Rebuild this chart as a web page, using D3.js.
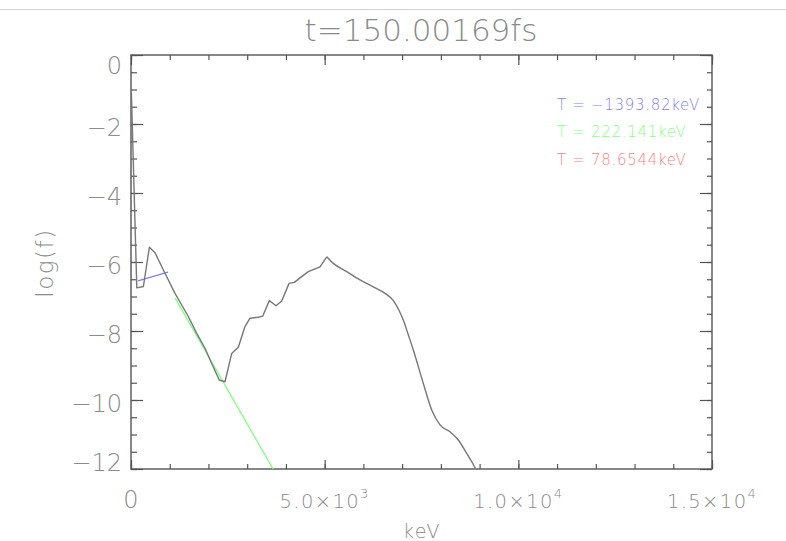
<!DOCTYPE html>
<html>
<head>
<meta charset="utf-8">
<script src="https://cdn.jsdelivr.net/npm/d3@7"></script>
<style>
  html, body { margin: 0; padding: 0; background: #fff; }
  svg { display: block; }
  text { font-family: "DejaVu Sans", sans-serif; font-weight: 200; fill: #8a8a8a; }
</style>
</head>
<body>
<script>
// ---- data ----
const titleText = "t=150.00169fs";
const xLabel = "keV";
const yLabel = "log(f)";

const energy = [10, 150, 320, 475, 620, 835, 1136, 1480, 1696, 1910, 2083, 2280, 2427, 2600, 2771, 2943, 3073, 3287, 3400, 3571, 3744, 3891, 4080, 4217, 4364, 4578, 4880, 5053, 5223, 5570, 5913, 6256, 6558, 6773, 6927, 7031, 7150, 7289, 7547, 7764, 7978, 8236, 8451, 8667, 8908, 9000];
const logf   = [-1.1, -6.75, -6.71, -5.57, -5.73, -6.23, -6.91, -7.58, -8.07, -8.5, -8.94, -9.42, -9.47, -8.65, -8.47, -7.87, -7.63, -7.6, -7.57, -7.12, -7.27, -7.13, -6.62, -6.59, -6.46, -6.28, -6.14, -5.85, -6.04, -6.28, -6.52, -6.72, -6.91, -7.12, -7.42, -7.68, -8.08, -8.55, -9.52, -10.29, -10.72, -10.92, -11.16, -11.55, -12.03, -12.3];
const smoothFrom = 5053; // beyond this energy the curve is smooth

const fitBlueX  = [180, 955];
const fitBlueY  = [-6.55, -6.29];
const fitGreenX = [1136, 3800];
const fitGreenY = [-7.04, -12.26];

const legendTexts  = ["T = \u22121393.82keV", "T = 222.141keV", "T = 78.6544keV"];
const legendColors = ["#7f7fff", "#7fff7f", "#ff7f7f"];

const xMajorTicks = [0, 5000, 10000, 15000];
const xTickMantissa = ["0", "5.0", "1.0", "1.5"];
const xTickExponent = ["", "3", "4", "4"];
const xMinorTicks = d3.range(0, 15001, 1000);
const yMajorTicks = [0, -2, -4, -6, -8, -10, -12];
const yTickLabels = ["0", "\u22122", "\u22124", "\u22126", "\u22128", "\u221210", "\u221212"];
const yMinorTicks = d3.range(0, -12.01, -0.5);

// ---- layout ----
const W = 786, H = 541;
const pLeft = 131, pRight = 712, pTop = 55, pBottom = 469;
const axisColor = "#555";

const x = d3.scaleLinear().domain([0, 15000]).range([pLeft, pRight]);
const y = d3.scaleLinear().domain([0, -12]).range([pTop, pBottom]);

const svg = d3.select("body").append("svg").attr("width", W).attr("height", H);

// faint top border line
svg.append("line").attr("x1", 0).attr("x2", W).attr("y1", 9.5).attr("y2", 9.5)
  .attr("stroke", "#d0d0d0").attr("stroke-width", 1);

svg.append("clipPath").attr("id", "clip").append("rect")
  .attr("x", pLeft).attr("y", pTop).attr("width", pRight - pLeft).attr("height", pBottom - pTop);

// ---- axes (ticks pointing inward) ----
function styleAxis(g) {
  g.select(".domain").remove();
  g.selectAll(".tick line").attr("stroke", axisColor).attr("stroke-width", 1.2);
  g.selectAll(".tick text").remove();
}
svg.append("g").attr("transform", `translate(0,${pBottom})`)
  .call(d3.axisBottom(x).tickValues(xMinorTicks).tickSize(-5).tickFormat("")).call(styleAxis);
svg.append("g").attr("transform", `translate(0,${pBottom})`)
  .call(d3.axisBottom(x).tickValues(xMajorTicks).tickSize(-9).tickFormat("")).call(styleAxis);
svg.append("g").attr("transform", `translate(0,${pTop})`)
  .call(d3.axisTop(x).tickValues(xMinorTicks).tickSize(-5).tickFormat("")).call(styleAxis);
svg.append("g").attr("transform", `translate(0,${pTop})`)
  .call(d3.axisTop(x).tickValues(xMajorTicks).tickSize(-10).tickFormat("")).call(styleAxis);
svg.append("g").attr("transform", `translate(${pLeft},0)`)
  .call(d3.axisLeft(y).tickValues(yMinorTicks).tickSize(-6).tickFormat("")).call(styleAxis);
svg.append("g").attr("transform", `translate(${pLeft},0)`)
  .call(d3.axisLeft(y).tickValues(yMajorTicks).tickSize(-12).tickFormat("")).call(styleAxis);
svg.append("g").attr("transform", `translate(${pRight},0)`)
  .call(d3.axisRight(y).tickValues(yMinorTicks).tickSize(-5).tickFormat("")).call(styleAxis);
svg.append("g").attr("transform", `translate(${pRight},0)`)
  .call(d3.axisRight(y).tickValues(yMajorTicks).tickSize(-12).tickFormat("")).call(styleAxis);

svg.append("rect").attr("x", pLeft).attr("y", pTop).attr("width", pRight - pLeft).attr("height", pBottom - pTop)
  .attr("fill", "none").attr("stroke", axisColor).attr("stroke-width", 1.4);

// ---- tick labels ----
yMajorTicks.forEach((v, i) => {
  const cy = Math.max(pTop + 10, Math.min(pBottom - 7, y(v) + 3.5));
  svg.append("text").attr("x", 122).attr("y", cy).attr("dy", "0.36em")
    .attr("text-anchor", "end").style("font-size", "24px").text(yTickLabels[i]);
});
xMajorTicks.forEach((v, i) => {
  const t = svg.append("text").attr("x", x(v)).attr("text-anchor", "middle");
  if (xTickExponent[i] === "") {
    t.attr("y", 508).style("font-size", "24px").text(xTickMantissa[i]);
  } else {
    t.attr("y", 508).style("font-size", "19.5px").style("letter-spacing", "1.4px");
    t.append("tspan").text(xTickMantissa[i] + "\u00d710");
    t.append("tspan").attr("dy", -10).style("font-size", "13px").text(xTickExponent[i]);
  }
});

// ---- titles ----
svg.append("text").attr("x", 421).attr("y", 41).attr("text-anchor", "middle")
  .style("font-size", "31px").text(titleText);
svg.append("text").attr("x", 422).attr("y", 538).attr("text-anchor", "middle")
  .style("font-size", "19px").style("letter-spacing", "1.5px").text(xLabel);
svg.append("text").attr("transform", "translate(53,263) rotate(-90)").attr("text-anchor", "middle")
  .style("font-size", "23px").style("letter-spacing", "1.5px").text(yLabel);

// ---- data ----
const plot = svg.append("g").attr("clip-path", "url(#clip)");
const line = d3.line().x(d => x(d[0])).y(d => y(d[1]));
const smoothLine = d3.line().x(d => x(d[0])).y(d => y(d[1])).curve(d3.curveMonotoneX);

plot.append("path").datum(d3.zip(fitBlueX, fitBlueY)).attr("d", line)
  .attr("fill", "none").attr("stroke", legendColors[0]).attr("stroke-width", 1.3);
plot.append("path").datum(d3.zip(fitGreenX, fitGreenY)).attr("d", line)
  .attr("fill", "none").attr("stroke", legendColors[1]).attr("stroke-width", 1.3);

const pts = d3.zip(energy, logf);
const jagged = pts.filter(d => d[0] <= smoothFrom);
const smooth = pts.filter(d => d[0] >= smoothFrom);
[[jagged, line], [smooth, smoothLine]].forEach(([data, gen]) => {
  plot.append("path").datum(data).attr("d", gen)
    .attr("fill", "none").attr("stroke", "#777").attr("stroke-width", 1.4).attr("stroke-linejoin", "round");
});

// ---- legend ----
legendTexts.forEach((t, i) => {
  svg.append("text").attr("x", 557).attr("y", 110 + i * 27.3)
    .style("font-size", "15px").style("letter-spacing", "0.7px")
    .style("fill", legendColors[i]).text(t);
});
</script>
</body>
</html>
